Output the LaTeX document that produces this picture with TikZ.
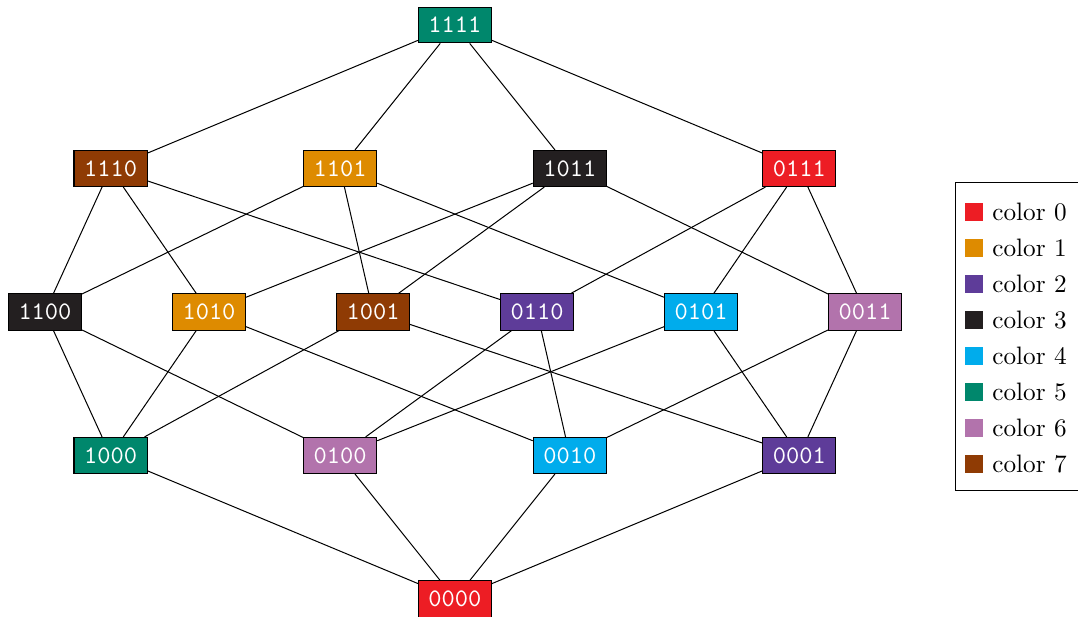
\documentclass[tikz,border=0pt]{standalone}
\usetikzlibrary{positioning}
\definecolor{c0}{RGB}{237,29,36}
\definecolor{c1}{RGB}{222,139,0}
\definecolor{c2}{RGB}{94,60,153}
\definecolor{c3}{RGB}{35,31,32}
\definecolor{c4}{RGB}{0,172,236}
\definecolor{c5}{RGB}{0,135,108}
\definecolor{c6}{RGB}{178,115,172}
\definecolor{c7}{RGB}{143,59,4}

\begin{document}
\begin{tikzpicture}[bit/.style={draw,on grid,text=white,font=\ttfamily,inner sep=4pt,minimum height=0.47cm},
	legsq/.style={minimum size=0.25cm,inner sep=0pt}]
	\useasboundingbox (-6.341,-0.251) rectangle (8.683,8.348);
	% top and bottom
	\node[bit,fill=c5] (b1111) at (0,8) {1111};
	\node[bit,fill=c0] (b0000) at (0,0) {0000};
	% three ones
	\node[bit,fill=c7] (b1110) at (-4.8,6) {1110};
	\node[bit,fill=c1] (b1101) [right=3.2cm of b1110] {1101};
	\node[bit,fill=c3] (b1011) [right=3.2cm of b1101] {1011};
	\node[bit,fill=c0] (b0111) [right=3.2cm of b1011] {0111};
	% two ones
	\node[bit,fill=c3] (b1100) at (-5.714,4) {1100};
	\node[bit,fill=c1] (b1010) [right=2.286cm of b1100] {1010};
	\node[bit,fill=c7] (b1001) [right=2.286cm of b1010] {1001};
	\node[bit,fill=c2] (b0110) [right=2.286cm of b1001] {0110};
	\node[bit,fill=c4] (b0101) [right=2.286cm of b0110] {0101};
	\node[bit,fill=c6] (b0011) [right=2.286cm of b0101] {0011};
	% one one
	\node[bit,fill=c5] (b1000) at (-4.8,2) {1000};
	\node[bit,fill=c6] (b0100) [right=3.2cm of b1000] {0100};
	\node[bit,fill=c4] (b0010) [right=3.2cm of b0100] {0010};
	\node[bit,fill=c2] (b0001) [right=3.2cm of b0010] {0001};

	\path
	(b1111) edge (b1110) edge (b1101) edge (b1011) edge (b0111)
	(b1110) edge (b1100) edge (b1010) edge (b0110)
	(b1101) edge (b1100) edge (b1001) edge (b0101)
	(b1011) edge (b1010) edge (b1001) edge (b0011)
	(b0111) edge (b0110) edge (b0101) edge (b0011)
	(b1100) edge (b1000) edge (b0100)
	(b1010) edge (b1000) edge (b0010)
	(b1001) edge (b1000) edge (b0001)
	(b0110) edge (b0100) edge (b0010)
	(b0101) edge (b0100) edge (b0001)
	(b0011) edge (b0010) edge (b0001)
	(b0000) edge (b1000) edge (b0100) edge (b0010) edge (b0001);

	% legend
	\foreach \i in {0,...,7} {
		\node[legsq,fill=c\i] (sq\i) at (7.233,5.394-0.502*\i) {};
		\node[anchor=west] (lab\i) at (sq\i.east) {color \i};
	}
	\draw (6.969,1.505) rectangle (8.71,5.798);
\end{tikzpicture}
\end{document}
